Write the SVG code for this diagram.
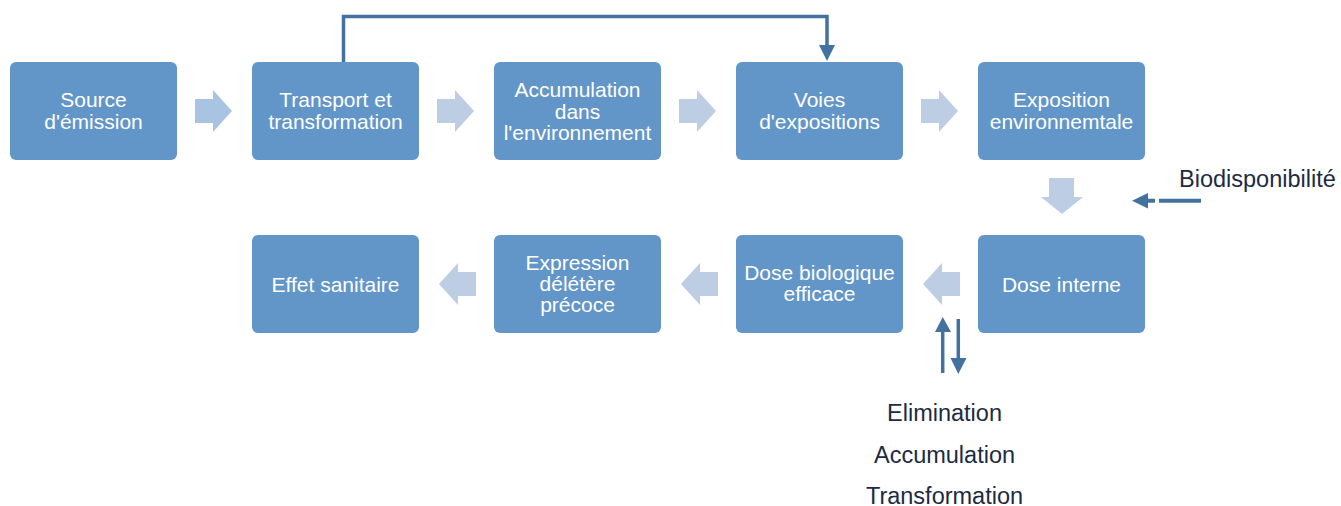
<svg xmlns="http://www.w3.org/2000/svg" width="1341" height="506" viewBox="0 0 1341 506">
<style>
.box{fill:#6296C9;}
.bt{font-family:"Liberation Sans",Arial,sans-serif;font-size:21px;fill:#ffffff;text-anchor:middle;}
.lbl{font-family:"Liberation Sans",Arial,sans-serif;font-size:23.5px;fill:#1c2b44;}
.blk{fill:#BDCDE4;}
.blk1{fill:#A9C3E2;}
.con{stroke:#4472A0;fill:none;}
.head{fill:#4472A0;}
</style>
<rect width="1341" height="506" fill="#ffffff"/>
<g id="connectors">
  <path class="blk1" d="M195,99 H213 V90 L232,111 L213,132 V123 H195 Z"/>
  <path class="blk" d="M437,99 H455 V90 L474,111 L455,132 V123 H437 Z"/>
  <path class="blk" d="M679,99 H697 V90 L716,111 L697,132 V123 H679 Z"/>
  <path class="blk" d="M921,99 H939 V90 L958,111 L939,132 V123 H921 Z"/>
  <path class="blk" d="M1049,178 H1074 V197 H1083 L1062,214 L1041,197 H1049 Z"/>
  <path class="blk" d="M960,272 H942 V263 L923,284 L942,305 V296 H960 Z"/>
  <path class="blk" d="M718,272 H700 V263 L681,284 L700,305 V296 H718 Z"/>
  <path class="blk" d="M476,272 H458 V263 L439,284 L458,305 V296 H476 Z"/>
  <path class="con" stroke-width="3.5" d="M343.5,62 V16.5 H827 V46"/>
  <path class="head" d="M819,45 H835 L827,61 Z"/>
  <path class="con" stroke-width="4" d="M1201,200.7 H1159 M1155,200.7 H1146"/>
  <path class="head" d="M1132,200.7 L1148,193 V208.4 Z"/>
  <path class="con" stroke-width="3.5" d="M942.7,373 V330"/>
  <path class="head" d="M935,332 L942.7,317 L951,332 Z"/>
  <path class="con" stroke-width="3.5" d="M958.3,319 V360"/>
  <path class="head" d="M950.5,358 L958.3,374 L966.5,358 Z"/>
</g>
<g id="n1"><rect class="box" x="10" y="62" width="167" height="98" rx="6"/><text class="bt" x="93.5" y="107">Source</text><text class="bt" x="93.5" y="129">d'émission</text></g>
<g id="n2"><rect class="box" x="252" y="62" width="167" height="98" rx="6"/><text class="bt" x="335.5" y="107">Transport et</text><text class="bt" x="335.5" y="129">transformation</text></g>
<g id="n3"><rect class="box" x="494" y="62" width="167" height="98" rx="6"/><text class="bt" x="577.5" y="97">Accumulation</text><text class="bt" x="577.5" y="118.5">dans</text><text class="bt" x="577.5" y="140">l'environnement</text></g>
<g id="n4"><rect class="box" x="736" y="62" width="167" height="98" rx="6"/><text class="bt" x="819.5" y="107">Voies</text><text class="bt" x="819.5" y="129">d'expositions</text></g>
<g id="n5"><rect class="box" x="978" y="62" width="167" height="98" rx="6"/><text class="bt" x="1061.5" y="107">Exposition</text><text class="bt" x="1061.5" y="128.5">environnemtale</text></g>
<g id="n6"><rect class="box" x="978" y="235" width="167" height="98" rx="6"/><text class="bt" x="1061.5" y="291.5">Dose interne</text></g>
<g id="n7"><rect class="box" x="736" y="235" width="167" height="98" rx="6"/><text class="bt" x="819.5" y="280">Dose biologique</text><text class="bt" x="819.5" y="301">efficace</text></g>
<g id="n8"><rect class="box" x="494" y="235" width="167" height="98" rx="6"/><text class="bt" x="577.5" y="270">Expression</text><text class="bt" x="577.5" y="291">délétère</text><text class="bt" x="577.5" y="312">précoce</text></g>
<g id="n9"><rect class="box" x="252" y="235" width="167" height="98" rx="6"/><text class="bt" x="335.5" y="291.5">Effet sanitaire</text></g>
<g id="labels">
  <text class="lbl" x="1179" y="187">Biodisponibilité</text>
  <text class="lbl" x="944.5" y="420.5" text-anchor="middle">Elimination</text>
  <text class="lbl" x="944.5" y="462.5" text-anchor="middle">Accumulation</text>
  <text class="lbl" x="944.5" y="503.5" text-anchor="middle">Transformation</text>
</g>
</svg>
